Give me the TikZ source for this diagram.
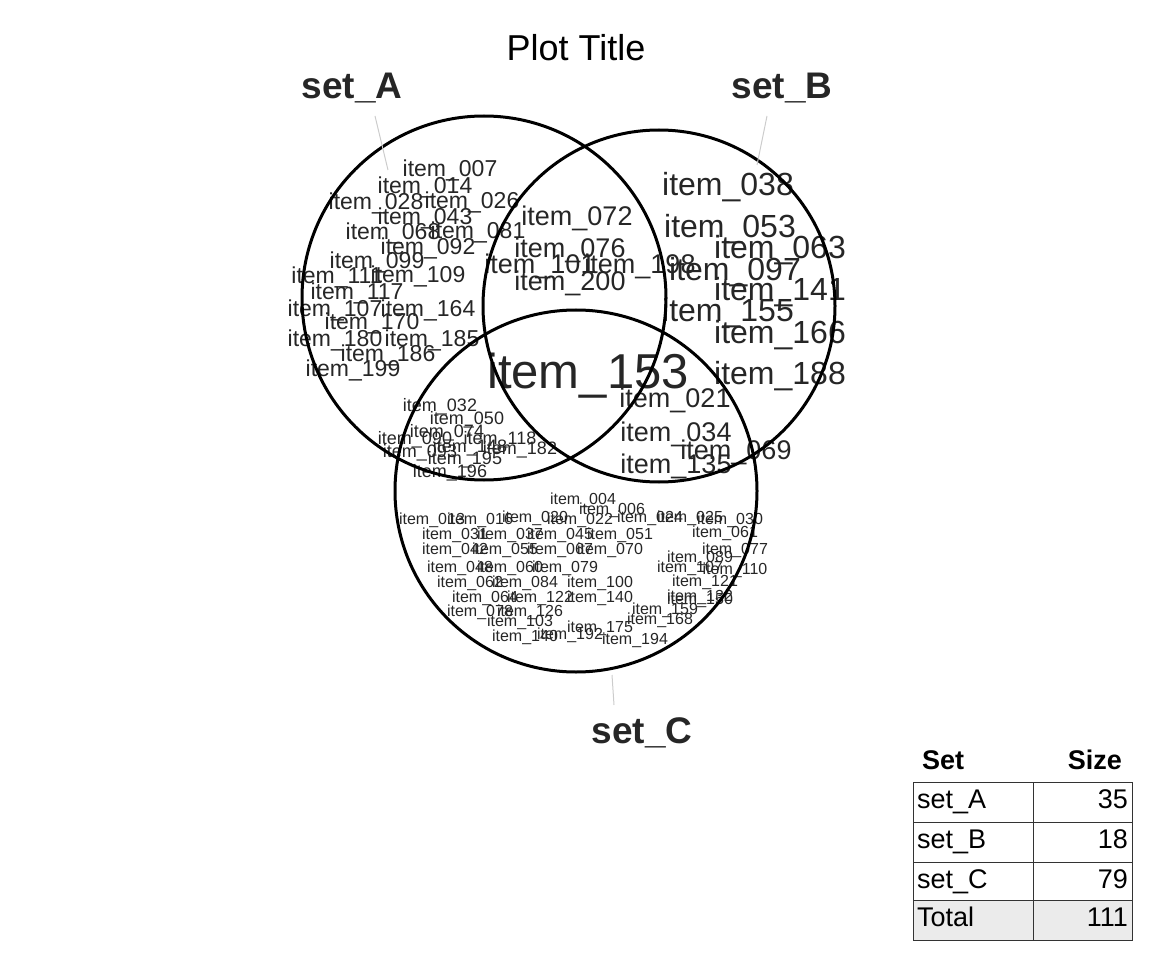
\documentclass[tikz,border=0pt]{standalone}
\usepackage{fontspec}
\setmainfont{Liberation Sans}
\newcommand{\fs}[1]{\fontsize{#1}{#1}\selectfont}
\tikzset{circ/.style={draw=black,line width=3pt},
 it/.style={text=black!85,inner sep=0pt,font=\fs{#1}},
 lead/.style={draw=black!20,line width=1pt},
 lab/.style={font=\fs{37}\bfseries,text=black!85,inner sep=0pt},
 cell/.style={draw=black!80,line width=1pt,minimum height=40pt,inner sep=4pt,font=\fs{27}}}
\begin{document}
\begin{tikzpicture}[x=1pt,y=-1pt]
\useasboundingbox (0,0) rectangle (1152,960);
\node[inner sep=0pt,font=\fs{36}] (title) at (576,48) {Plot Title};
% A items
\foreach \t/\x/\y in {007/450/170,014/425/187,026/472/202,028/376/203,043/425/218,081/478/232,068/393/233,092/428/248,099/377/262,109/418/276,111/337/277,117/357/293,164/428/310,107/335/310,170/372/323,180/335/340,185/432/340,186/388/355,199/353/370}
  \node[it=23] at (\x,\y) {item\_\t};
% A∩B
\foreach \t/\x/\y in {072/577/218,076/570/250,101/540/266,198/640/266,200/570/283}
  \node[it=27] at (\x,\y) {item\_\t};
% B
\foreach \t/\x/\y in {038/728/187,053/730/229,063/780/250,097/735/272,141/780/292,155/728/313,166/780/335,188/780/376}
  \node[it=32] at (\x,\y) {item\_\t};
\node[it=49] (c153) at (588,376) {item\_153};
% A∩C
\foreach \t/\x/\y in {032/440/407,050/467/420,074/447/433,090/415/440,118/500/440,148/470/448,182/520/450,093/420/453,195/465/460,196/450/473}
  \node[it=18] at (\x,\y) {item\_\t};
% B∩C
\foreach \t/\x/\y in {021/675/400,034/676/434,069/736/452,135/676/466}
  \node[it=27] at (\x,\y) {item\_\t};
% C
\foreach \t/\x/\y in {004/583/500,006/612/510,013/432/520,016/480/520,020/535/518,022/580/520,024/650/518,025/690/518,030/730/520,031/455/535,037/510/535,045/560/535,051/620/535,061/725/533,042/455/550,055/505/550,067/560/550,070/610/550,077/735/550,089/700/558,048/460/568,060/510/568,079/565/568,107/690/568,110/735/570,062/470/583,084/525/583,100/600/583,121/705/582,064/485/598,122/540/598,140/600/598,132/700/597,078/480/612,126/530/612,150/700/600,159/665/610,103/520/622,168/660/620,175/600/628,140/525/637,192/570/635,194/635/640}
  \node[it=16] at (\x,\y) {item\_\t};
% circles
\draw[circ] (484,298) circle (182);
\draw[circ] (659,306) circle (176);
\draw[circ] (576,491) circle (181);
% set labels
\node[lab] (la) at (352,88) {set\_A};
\node[lab] (lb) at (782,88) {set\_B};
\node[lab] (lc) at (642,733) {set\_C};
\coordinate (ea) at (388,170); \coordinate (eb) at (757,165); \coordinate (ec) at (612,675);
\draw[lead] (375,116) -- (ea);
\draw[lead] (767,116) -- (eb);
\draw[lead] (ec) -- (614,705);
% table
\node[anchor=west,font=\fs{27}\bfseries,inner sep=0pt] (h1) at (922,760) {Set};
\node[anchor=east,font=\fs{27}\bfseries,inner sep=0pt] (h2) at (1122,760) {Size};
\foreach \n/\v/\y/\f in {set\_A/35/802/white,set\_B/18/842/white,set\_C/79/882/white,Total/111/920/black!8}{
  \node[cell,fill=\f,minimum width=120pt,text width=112pt,align=left,anchor=center] at (973,\y) {\n\vphantom{p}};
  \node[cell,fill=\f,minimum width=99pt,text width=91pt,align=right] at (1082.5,\y) {\v\vphantom{p}};
}
\end{tikzpicture}
\end{document}
